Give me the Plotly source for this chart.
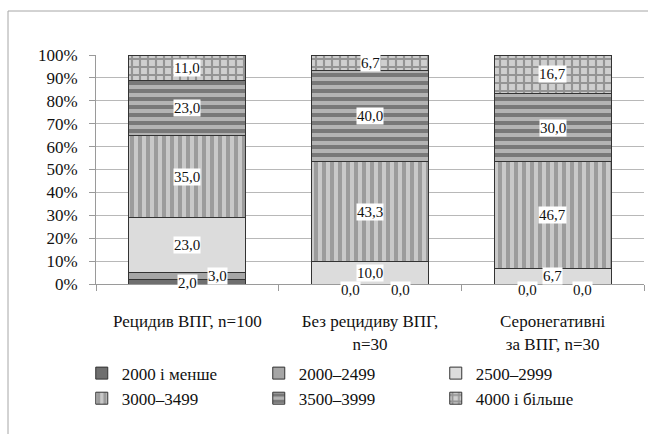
import plotly.graph_objects as go

categories = ["Рецидив ВПГ, n=100", "Без рецидиву ВПГ, n=30", "Серонегативні за ВПГ, n=30"]
tick_labels = ["Рецидив ВПГ, n=100", "Без рецидиву ВПГ,<br>n=30", "Серонегативні<br>за ВПГ, n=30"]
series_names = ["2000 і менше", "2000–2499", "2500–2999", "3000–3499", "3500–3999", "4000 і більше"]
v_2000_less = [2.0, 0.0, 0.0]
v_2000_2499 = [3.0, 0.0, 0.0]
v_2500_2999 = [23.0, 10.0, 6.7]
v_3000_3499 = [35.0, 43.3, 46.7]
v_3500_3999 = [23.0, 40.0, 30.0]
v_4000_more = [11.0, 6.7, 16.7]
series_values = [v_2000_less, v_2000_2499, v_2500_2999, v_3000_3499, v_3500_3999, v_4000_more]

# styles
styles = [
    dict(color="#6f6f6f", pattern=None),
    dict(color="#a6a6a6", pattern=None),
    dict(color="#dcdcdc", pattern=None),
    dict(color="#c9c9c9", pattern=dict(shape="|", bgcolor="#c9c9c9", fgcolor="#9c9c9c", size=8, solidity=0.5, fillmode="replace")),
    dict(color="#b3b3b3", pattern=dict(shape="-", bgcolor="#b3b3b3", fgcolor="#787878", size=8, solidity=0.5, fillmode="replace")),
    dict(color="#cfcfcf", pattern=dict(shape="+", bgcolor="#cfcfcf", fgcolor="#949494", size=8, solidity=0.46, fillmode="replace")),
]
# manual label offsets (px) for small segments: (series index, category index) -> (xshift, yshift)
label_offsets = {
    (0, 0): (0, -1), (1, 0): (30, 0),
    (0, 1): (-20, -6), (1, 1): (30, -6),
    (0, 2): (-25, -6), (1, 2): (30, -6),
}

FONT = "Liberation Serif, Times New Roman, serif"

fig = go.Figure()
for name, vals, st in zip(series_names, series_values, styles):
    marker = dict(color=st["color"], line=dict(color="#333333", width=1))
    if st["pattern"]:
        marker["pattern"] = st["pattern"]
    fig.add_trace(go.Bar(name=name, x=categories, y=vals, marker=marker, width=0.64,
                         hoverinfo="skip"))

# labels
annotations = []
for ci, cat in enumerate(categories):
    total = sum(s[ci] for s in series_values)
    cum = 0.0
    for si, s in enumerate(series_values):
        v = s[ci]
        pct = v / total * 100
        mid = cum + pct / 2
        cum += pct
        xs, ys = label_offsets.get((si, ci), (0, 0))
        yval = mid if v > 0 else 0
        annotations.append(dict(
            x=cat, y=yval, xref="x", yref="y", text=f"{v:.1f}".replace(".", ","),
            showarrow=False, bgcolor="white", borderpad=0, xshift=xs, yshift=ys,
            font=dict(family=FONT, size=15, color="#111111")))

PW, PH = 548, 229
bx0, by_top = (8 - 96) / PW, (284 - 11) / PH
bx1, by_bot = (700 - 96) / PW, (284 - 480) / PH
border = [
    dict(type="line", xref="paper", yref="paper", x0=bx0, x1=bx0, y0=by_bot, y1=by_top,
         line=dict(color="#a6a6a6", width=1), layer="below"),
    dict(type="line", xref="paper", yref="paper", x0=bx0, x1=bx1, y0=by_top, y1=by_top,
         line=dict(color="#a6a6a6", width=1), layer="below"),
]

fig.update_layout(
    barmode="stack", barnorm="percent",
    width=648, height=434,
    margin=dict(l=96, r=4, t=55, b=150),
    paper_bgcolor="white", plot_bgcolor="white",
    font=dict(family=FONT, size=17, color="#111111"),
    annotations=annotations,
    showlegend=True,
    legend=dict(orientation="h", x=-0.026, y=-0.3125, xanchor="left", yanchor="top",
                traceorder="normal", entrywidth=132, font=dict(family=FONT, size=17),
                itemclick=False),
    shapes=border,
)
fig.update_yaxes(range=[0, 100], dtick=10, ticksuffix="%", showgrid=True, gridcolor="#b8b8b8",
                 gridwidth=1, showline=True, linecolor="#9a9a9a", ticks="outside", ticklen=6,
                 tickcolor="#9a9a9a", ticklabelstandoff=8, zeroline=False,
                 tickfont=dict(family=FONT, size=17))
fig.update_xaxes(tickvals=categories, ticktext=tick_labels, showline=True, linecolor="#9a9a9a",
                 ticks="outside", tickson="boundaries", ticklen=6, tickcolor="#9a9a9a",
                 ticklabelstandoff=22, tickfont=dict(family=FONT, size=17))

fig.write_html("out.html", config={"displayModeBar": False},
               post_script=("document.body.style.margin='0';document.body.style.overflow='hidden';"
                            "document.documentElement.style.overflow='hidden';"))
